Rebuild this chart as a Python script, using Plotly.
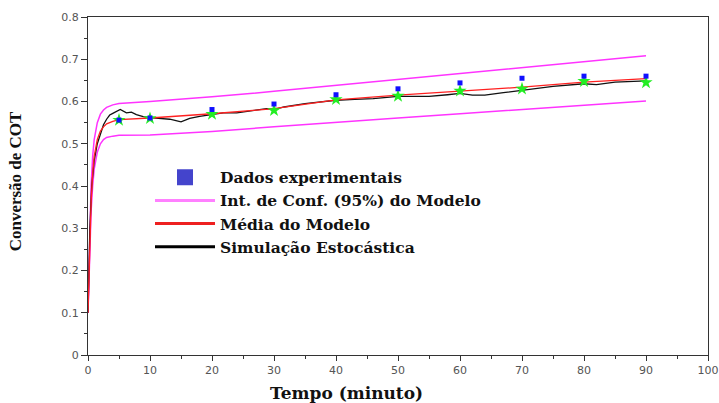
import plotly.graph_objects as go

# Experimental data (blue) and model points (green)
t_exp = [5, 10, 20, 30, 40, 50, 60, 70, 80, 90]
y_exp = [0.556, 0.561, 0.581, 0.594, 0.616, 0.630, 0.644, 0.655, 0.660, 0.660]
y_pts = [0.556, 0.560, 0.570, 0.579, 0.605, 0.613, 0.625, 0.630, 0.648, 0.645]

# Model mean and 95% confidence interval
t_model = [0, 0.25, 0.5, 0.75, 1, 1.5, 2, 2.5, 3, 4, 5, 10, 20, 30, 40, 50, 60, 70, 80, 90]
y_mean = [0.10, 0.25, 0.36, 0.43, 0.47, 0.51, 0.53, 0.54, 0.547, 0.553, 0.557, 0.561, 0.571, 0.583,
          0.604, 0.615, 0.625, 0.634, 0.646, 0.654]
y_upper = [0.10, 0.27, 0.40, 0.47, 0.51, 0.55, 0.57, 0.58, 0.586, 0.592, 0.595, 0.600, 0.611, 0.624,
           0.638, 0.652, 0.666, 0.680, 0.694, 0.708]
y_lower = [0.10, 0.23, 0.34, 0.40, 0.44, 0.48, 0.50, 0.51, 0.515, 0.518, 0.520, 0.521, 0.529, 0.540,
           0.551, 0.561, 0.571, 0.581, 0.591, 0.601]

# Stochastic simulation
t_sim = [0, 0.3, 0.6, 1, 1.5, 2, 2.5, 3, 3.5, 4, 4.5, 5.2, 6.2, 7, 7.8, 8.9, 10, 11.6, 13.2, 15,
         16.4, 18, 20, 21.8, 24, 26.1, 28.8, 30, 31.6, 35, 38, 40, 43, 46, 50, 55, 58, 60, 62, 64,
         67, 70, 75, 80, 82, 85, 88, 90]
y_sim = [0.10, 0.30, 0.40, 0.46, 0.50, 0.525, 0.545, 0.558, 0.568, 0.572, 0.576, 0.581, 0.573, 0.575,
         0.569, 0.564, 0.562, 0.560, 0.558, 0.552, 0.560, 0.565, 0.570, 0.573, 0.573, 0.578, 0.583,
         0.581, 0.587, 0.595, 0.600, 0.603, 0.605, 0.607, 0.612, 0.612, 0.616, 0.619, 0.615, 0.615,
         0.621, 0.626, 0.636, 0.642, 0.640, 0.646, 0.647, 0.649]

x_ticks = [0, 10, 20, 30, 40, 50, 60, 70, 80, 90, 100]
y_ticks = [0, 0.1, 0.2, 0.3, 0.4, 0.5, 0.6, 0.7, 0.8]
y_ticklabels = ["0", "0.1", "0.2", "0.3", "0.4", "0.5", "0.6", "0.7", "0.8"]

fig = go.Figure()

fig.add_trace(go.Scatter(x=t_model, y=y_upper, mode="lines", line=dict(color="#ff33ff", width=1.5),
                         showlegend=False, hoverinfo="skip"))
fig.add_trace(go.Scatter(x=t_model, y=y_lower, mode="lines", line=dict(color="#ff33ff", width=1.5),
                         showlegend=False, hoverinfo="skip"))
fig.add_trace(go.Scatter(x=t_sim, y=y_sim, mode="lines", line=dict(color="#111111", width=1.3),
                         showlegend=False))
fig.add_trace(go.Scatter(x=t_model, y=y_mean, mode="lines", line=dict(color="#ff2020", width=1.3),
                         showlegend=False))
fig.add_trace(go.Scatter(x=t_exp, y=y_pts, mode="markers",
                         marker=dict(symbol="star", size=10, color="#22ee22"), showlegend=False))
fig.add_trace(go.Scatter(x=t_exp, y=y_exp, mode="markers",
                         marker=dict(symbol="square", size=5, color="#1010ff"), showlegend=False))

# Legend entries
fig.add_trace(go.Scatter(x=[None], y=[None], mode="markers", name="<b>Dados experimentais</b>",
                         marker=dict(symbol="square", size=16, color="#4444cc")))
fig.add_trace(go.Scatter(x=[None], y=[None], mode="lines", name="<b>Int. de Conf. (95%) do Modelo</b>",
                         line=dict(color="#ff80ff", width=3)))
fig.add_trace(go.Scatter(x=[None], y=[None], mode="lines", name="<b>Média do Modelo</b>",
                         line=dict(color="#ee2020", width=3)))
fig.add_trace(go.Scatter(x=[None], y=[None], mode="lines", name="<b>Simulação Estocástica</b>",
                         line=dict(color="#000000", width=3)))

axis_font = dict(family="DejaVu Sans", size=11, color="#555555")

fig.update_layout(
    width=719, height=403,
    margin=dict(l=88, r=11, t=17, b=48),
    plot_bgcolor="white", paper_bgcolor="white",
    showlegend=True,
    legend=dict(x=0.1, y=0.575, xanchor="left", yanchor="top",
                bgcolor="rgba(0,0,0,0)", borderwidth=0, itemwidth=60,
                font=dict(family="DejaVu Serif", size=15.5, color="#111111"),
                tracegroupgap=0),
    xaxis=dict(range=[0, 100], tickvals=x_ticks, ticks="outside", ticklen=5, tickcolor="#333",
               showline=True, linecolor="#333", linewidth=1.3, mirror=True, showgrid=False,
               zeroline=False, tickfont=axis_font, automargin=False,
               minor=dict(ticks="outside", ticklen=3, dtick=5, tickcolor="#333")),
    yaxis=dict(range=[0, 0.8], tickvals=y_ticks, ticktext=y_ticklabels, ticks="outside", ticklen=6,
               tickcolor="#333", showline=True, linecolor="#333", linewidth=1.3, mirror=True,
               showgrid=False, zeroline=False, tickfont=axis_font, automargin=False,
               minor=dict(ticks="outside", ticklen=3, dtick=0.05, tickcolor="#333")),
    annotations=[
        dict(text="<b>Tempo (minuto)</b>", xref="paper", yref="paper", x=0.417, y=-0.078,
             xanchor="center", yanchor="top", showarrow=False,
             font=dict(family="DejaVu Serif", size=17, color="#111111")),
        dict(text="<b>Conversão de COT</b>", xref="paper", yref="paper", x=-0.098, y=0.513,
             xanchor="right", yanchor="middle", textangle=-90, showarrow=False,
             font=dict(family="Liberation Serif", size=17, color="#111111")),
    ],
)

fig.write_html("out.html")
